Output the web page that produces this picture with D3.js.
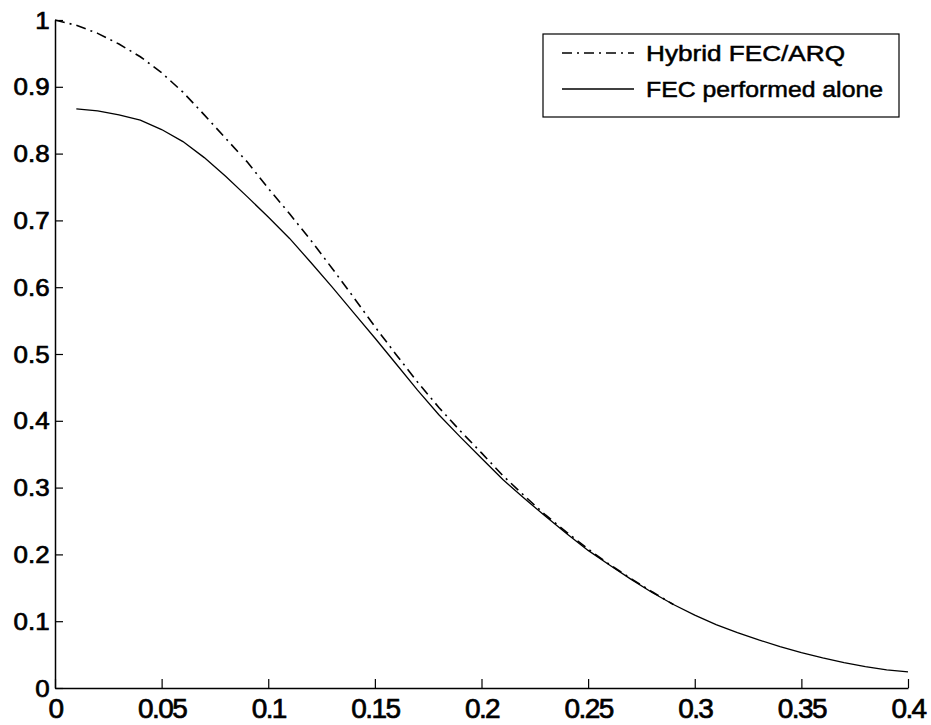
<!DOCTYPE html>
<html>
<head>
<meta charset="utf-8">
<script src="https://cdn.jsdelivr.net/npm/d3@7"></script>
<style>
    html, body { margin: 0; padding: 0; background: #fff; }
    svg { display: block; }
    text { font-family: "Liberation Sans", Arial, sans-serif; fill: #000; }
</style>
</head>
<body>
<div id="chart"></div>
<script>

// x values (error probability) and the two throughput curves
let xHybrid = [0, 0.01, 0.02, 0.03, 0.04, 0.05, 0.06, 0.07, 0.08, 0.09, 0.10,
               0.11, 0.12, 0.13, 0.14, 0.15, 0.16, 0.17, 0.18, 0.19, 0.20,
               0.21, 0.22, 0.23, 0.24, 0.25, 0.26, 0.27, 0.28, 0.29];
let yHybrid = [1.000, 0.992, 0.980, 0.964, 0.945, 0.921, 0.892, 0.858, 0.823, 0.788, 0.748,
               0.710, 0.670, 0.628, 0.585, 0.541, 0.499, 0.458, 0.420, 0.385, 0.352,
               0.318, 0.288, 0.259, 0.233, 0.208, 0.185, 0.164, 0.144, 0.125];

let xFec = [0.01, 0.02, 0.03, 0.04, 0.05, 0.06, 0.07, 0.08, 0.09, 0.10,
            0.11, 0.12, 0.13, 0.14, 0.15, 0.16, 0.17, 0.18, 0.19, 0.20,
            0.21, 0.22, 0.23, 0.24, 0.25, 0.26, 0.27, 0.28, 0.29, 0.30,
            0.31, 0.32, 0.33, 0.34, 0.35, 0.36, 0.37, 0.38, 0.39, 0.40];
let yFec = [0.867, 0.864, 0.858, 0.850, 0.836, 0.818, 0.794, 0.766, 0.736, 0.705,
            0.673, 0.637, 0.600, 0.562, 0.524, 0.485, 0.446, 0.409, 0.376, 0.344,
            0.312, 0.284, 0.257, 0.231, 0.206, 0.184, 0.163, 0.143, 0.125, 0.109,
            0.095, 0.083, 0.072, 0.062, 0.053, 0.045, 0.038, 0.032, 0.027, 0.024];

let xTicks = [0, 0.05, 0.1, 0.15, 0.2, 0.25, 0.3, 0.35, 0.4];
let yTicks = [0, 0.1, 0.2, 0.3, 0.4, 0.5, 0.6, 0.7, 0.8, 0.9, 1];

let seriesNames = ["Hybrid FEC/ARQ", "FEC performed alone"];
let dashStyles = ["10,5,2,5", null];

let margin = {top: 20, right: 23, bottom: 37, left: 55},
    totalWidth = 931, totalHeight = 725,
    width = totalWidth - margin.left - margin.right,
    height = totalHeight - margin.top - margin.bottom;

let svg = d3.select("#chart").append("svg")
    .attr("width", totalWidth)
    .attr("height", totalHeight);

let g = svg.append("g").attr("transform", "translate(" + margin.left + "," + margin.top + ")");

let xScale = d3.scaleLinear().domain([0, 0.4]).range([0, width]);
let yScale = d3.scaleLinear().domain([0, 1]).range([height, 0]);

// axes: only left and bottom, ticks pointing inward
let yAxis = g.append("g")
    .call(d3.axisLeft(yScale).tickValues(yTicks).tickSizeInner(-8).tickSizeOuter(0)
        .tickFormat(d3.format("~g")));

yAxis.select(".domain").attr("stroke-width", 1.5);
yAxis.selectAll(".tick line").attr("stroke-width", 1.2);
yAxis.selectAll(".tick text")
    .attr("font-size", 24)
    .attr("x", -5)
    .attr("dy", "0.34em")
    .attr("stroke", "#000")
    .attr("stroke-width", 0.7)
    .attr("transform", "scale(1.08,1)")
    .style("font-family", "'Liberation Sans', Arial, sans-serif");

let xAxis = g.append("g")
    .attr("transform", "translate(0," + height + ")")
    .call(d3.axisBottom(xScale).tickValues(xTicks).tickSizeInner(-9).tickSizeOuter(0)
        .tickFormat(d3.format("~g")));

xAxis.select(".domain").attr("stroke-width", 1.5);
xAxis.selectAll(".tick line").attr("stroke-width", 1.2);
xAxis.selectAll(".tick text")
    .attr("font-size", 28)
    .attr("y", 30)
    .attr("dy", 0)
    .attr("letter-spacing", -1.6)
    .attr("stroke", "#000")
    .attr("stroke-width", 0.7)
    .style("font-family", "'Liberation Sans', Arial, sans-serif");

// curves
let line = d3.line()
    .x((d) => xScale(d[0]))
    .y((d) => yScale(d[1]));

let hybridPoints = xHybrid.map((x, i) => [x, yHybrid[i]]);
let fecPoints = xFec.map((x, i) => [x, yFec[i]]);

g.append("path")
    .datum(fecPoints)
    .attr("fill", "none")
    .attr("stroke", "#000")
    .attr("stroke-width", 1.3)
    .attr("d", line);

g.append("path")
    .datum(hybridPoints)
    .attr("fill", "none")
    .attr("stroke", "#000")
    .attr("stroke-width", 1.6)
    .attr("stroke-dasharray", dashStyles[0])
    .attr("d", line);

// legend
let legend = svg.append("g").attr("transform", "translate(543,34)");
let labelWidths = [199, 237];

legend.append("rect")
    .attr("width", 356)
    .attr("height", 83)
    .attr("fill", "#fff")
    .attr("stroke", "#000")
    .attr("stroke-width", 1.2);

seriesNames.forEach(function (name, i) {
    let rowY = 19 + i * 36;
    legend.append("line")
        .attr("x1", 19).attr("x2", 91)
        .attr("y1", rowY).attr("y2", rowY)
        .attr("stroke", "#000")
        .attr("stroke-width", i === 0 ? 1.6 : 1.3)
        .attr("stroke-dasharray", dashStyles[i]);

    legend.append("text")
        .attr("x", 103)
        .attr("y", rowY)
        .attr("dy", "0.36em")
        .attr("font-size", 22)
        .attr("textLength", labelWidths[i])
        .attr("lengthAdjust", "spacingAndGlyphs")
        .attr("stroke", "#000")
        .attr("stroke-width", 0.5)
        .text(name);
});

</script>
</body>
</html>
